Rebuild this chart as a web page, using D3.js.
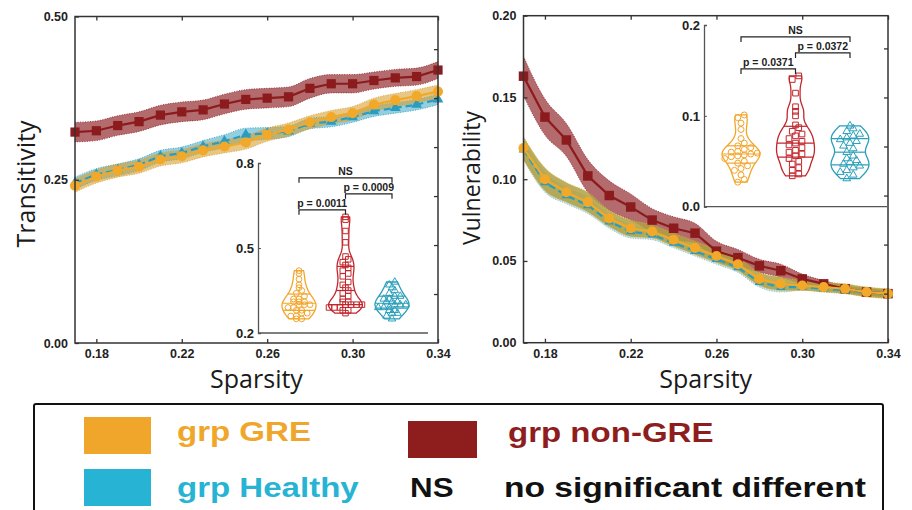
<!DOCTYPE html>
<html>
<head>
<meta charset="utf-8" />
<title>Transitivity and Vulnerability</title>
<script src="https://cdn.jsdelivr.net/npm/d3@7"></script>
<style>
  body { margin: 0; background: #fff; }
  svg { display: block; font-family: "Liberation Sans", Arial, sans-serif; }
  .tick text { font-weight: bold; font-size: 12.5px; fill: #222; }
  .title { font-family: "Open Sans", sans-serif; font-size: 25px; fill: #1a1a1a; }
</style>
</head>
<body>
<svg id="chart" width="912" height="510"></svg>
<script>
// sparsity thresholds (x axis of both panels)
var sparsity = [0.17, 0.18, 0.19, 0.20, 0.21, 0.22, 0.23, 0.24, 0.25, 0.26, 0.27, 0.28, 0.29, 0.30, 0.31, 0.32, 0.33, 0.34];
var xTicks = [0.18, 0.22, 0.26, 0.30, 0.34];
var groupNames = ["grp GRE", "grp non-GRE", "grp Healthy"];

// transitivity: group means and spread
var transGre = [0.241, 0.255, 0.264, 0.270, 0.281, 0.286, 0.295, 0.301, 0.307, 0.319, 0.327, 0.338, 0.346, 0.352, 0.365, 0.372, 0.378, 0.385];
var transGreSd = [0.010, 0.010, 0.010, 0.010, 0.010, 0.010, 0.010, 0.010, 0.010, 0.010, 0.010, 0.010, 0.010, 0.010, 0.010, 0.010, 0.010, 0.010];
var transHealthy = [0.245, 0.258, 0.265, 0.273, 0.286, 0.291, 0.301, 0.309, 0.319, 0.321, 0.324, 0.336, 0.339, 0.346, 0.355, 0.360, 0.365, 0.373];
var transHealthySd = [0.009, 0.009, 0.009, 0.009, 0.009, 0.009, 0.009, 0.010, 0.010, 0.009, 0.008, 0.008, 0.008, 0.008, 0.008, 0.008, 0.008, 0.008];
var transNonGre = [0.323, 0.325, 0.333, 0.339, 0.349, 0.354, 0.357, 0.366, 0.373, 0.375, 0.377, 0.390, 0.397, 0.397, 0.402, 0.406, 0.408, 0.418];
var transNonGreSd = [0.015, 0.015, 0.015, 0.015, 0.015, 0.015, 0.015, 0.015, 0.015, 0.015, 0.015, 0.015, 0.014, 0.014, 0.013, 0.013, 0.013, 0.013];

// vulnerability: group means and spread
var vulnGre = [0.119, 0.100, 0.092, 0.086, 0.076, 0.070, 0.068, 0.063, 0.058, 0.053, 0.048, 0.039, 0.036, 0.035, 0.034, 0.033, 0.031, 0.030];
var vulnGreSd = [0.007, 0.007, 0.006, 0.006, 0.005, 0.005, 0.004, 0.004, 0.004, 0.004, 0.004, 0.004, 0.004, 0.003, 0.003, 0.003, 0.003, 0.003];
var vulnHealthy = [0.118, 0.098, 0.090, 0.084, 0.074, 0.068, 0.066, 0.061, 0.056, 0.051, 0.046, 0.037, 0.034, 0.034, 0.033, 0.032, 0.031, 0.030];
var vulnHealthySd = [0.006, 0.006, 0.005, 0.005, 0.004, 0.004, 0.003, 0.003, 0.003, 0.003, 0.003, 0.003, 0.003, 0.002, 0.002, 0.002, 0.002, 0.002];
var vulnNonGre = [0.163, 0.138, 0.124, 0.102, 0.090, 0.083, 0.075, 0.070, 0.067, 0.056, 0.052, 0.047, 0.044, 0.039, 0.036, 0.033, 0.031, 0.030];
var vulnNonGreSd = [0.012, 0.011, 0.010, 0.010, 0.009, 0.008, 0.007, 0.007, 0.006, 0.006, 0.005, 0.004, 0.004, 0.003, 0.002, 0.002, 0.002, 0.002];

// subject-level values for the violin insets
var transSubjGre = [0.25, 0.25, 0.26, 0.26, 0.27, 0.27, 0.28, 0.28, 0.29, 0.29, 0.30, 0.30, 0.30, 0.31, 0.31, 0.31, 0.32, 0.32, 0.33, 0.34, 0.35, 0.36, 0.37, 0.39, 0.41, 0.42];
var transSubjNonGre = [0.27, 0.28, 0.28, 0.29, 0.29, 0.29, 0.30, 0.30, 0.30, 0.30, 0.31, 0.31, 0.32, 0.33, 0.34, 0.35, 0.36, 0.37, 0.38, 0.40, 0.41, 0.42, 0.43, 0.44, 0.45, 0.46, 0.47, 0.52, 0.56, 0.60, 0.61];
var transSubjHealthy = [0.25, 0.26, 0.27, 0.27, 0.28, 0.28, 0.29, 0.29, 0.29, 0.30, 0.30, 0.30, 0.31, 0.31, 0.31, 0.32, 0.32, 0.33, 0.33, 0.34, 0.35, 0.36, 0.37, 0.38];
var transPLabels = ["p = 0.0011", "p = 0.0009", "NS"];

var vulnSubjGre = [0.027, 0.030, 0.035, 0.040, 0.042, 0.045, 0.048, 0.050, 0.053, 0.055, 0.056, 0.057, 0.058, 0.059, 0.060, 0.061, 0.063, 0.065, 0.067, 0.070, 0.075, 0.085, 0.092, 0.098, 0.101];
var vulnSubjNonGre = [0.034, 0.036, 0.040, 0.043, 0.047, 0.050, 0.053, 0.056, 0.058, 0.060, 0.062, 0.065, 0.068, 0.070, 0.072, 0.075, 0.078, 0.080, 0.083, 0.087, 0.090, 0.100, 0.105, 0.110, 0.125, 0.140, 0.144];
var vulnSubjHealthy = [0.031, 0.035, 0.038, 0.040, 0.043, 0.045, 0.047, 0.049, 0.051, 0.053, 0.056, 0.060, 0.064, 0.067, 0.070, 0.072, 0.074, 0.076, 0.078, 0.080, 0.083, 0.086, 0.089];
var vulnPLabels = ["p = 0.0371", "p = 0.0372", "NS"];

var pairs = [[0, 1], [1, 2], [0, 2]];

var legendLabels = ["grp GRE", "grp non-GRE", "grp Healthy"];
var legendColors = ["#f0a62a", "#8e1e1e", "#27b4d4"];

var svg = d3.select("#chart");

function drawPanel(cfg) {
  var g = svg.append("g");
  var x = d3.scaleLinear().domain([0.17, 0.34]).range([cfg.left, cfg.right]);
  var y = d3.scaleLinear().domain(cfg.yDomain).range([cfg.bottom, cfg.top]);

  // shaded bands first, then lines and markers on top
  cfg.series.forEach(function(s) {
    var band = d3.area()
      .x(function(d, i) { return x(sparsity[i]); })
      .y0(function(d, i) { return y(d - s.sd[i]); })
      .y1(function(d, i) { return y(d + s.sd[i]); })
      .curve(d3.curveMonotoneX);
    g.append("path").datum(s.values)
      .attr("d", band)
      .attr("fill", s.bandColor)
      .attr("fill-opacity", s.bandOpacity)
      .attr("stroke", s.edgeColor || s.bandColor)
      .attr("stroke-opacity", 0.8)
      .attr("stroke-width", 1)
      .attr("stroke-dasharray", "1,1.5");
  });

  cfg.series.forEach(function(s) {
    var line = d3.line()
      .x(function(d, i) { return x(sparsity[i]); })
      .y(function(d) { return y(d); });
    g.append("path").datum(s.values)
      .attr("d", line)
      .attr("fill", "none")
      .attr("stroke", s.color)
      .attr("stroke-width", 2.2)
      .attr("stroke-dasharray", s.dash);
    g.selectAll(null).data(s.values).enter().append("path")
      .attr("transform", function(d, i) { return "translate(" + x(sparsity[i]) + "," + y(d) + ")"; })
      .attr("d", d3.symbol().type(s.symbol).size(s.size))
      .attr("fill", s.color);
  });

  // axes on all four sides, ticks pointing inward
  var ax = svg.append("g");
  ax.append("g").attr("transform", "translate(" + cfg.left + ",0)")
    .call(d3.axisLeft(y).tickValues(cfg.yTicks).tickFormat(d3.format(".2f")).tickSize(-4).tickPadding(7));
  ax.append("g").attr("transform", "translate(0," + cfg.bottom + ")")
    .call(d3.axisBottom(x).tickValues(xTicks).tickFormat(d3.format(".2f")).tickSize(-4).tickPadding(6));
  ax.append("g").attr("transform", "translate(0," + cfg.top + ")")
    .call(d3.axisTop(x).tickValues(xTicks).tickFormat("").tickSize(-4));
  ax.append("g").attr("transform", "translate(" + cfg.right + ",0)")
    .call(d3.axisRight(y).tickValues(cfg.rightTicks).tickFormat("").tickSize(-4));
  ax.selectAll(".domain").remove();
  ax.selectAll(".tick line").attr("stroke", "#333").attr("stroke-width", 1.3);
  ax.append("rect")
    .attr("x", cfg.left).attr("y", cfg.top)
    .attr("width", cfg.right - cfg.left).attr("height", cfg.bottom - cfg.top)
    .attr("fill", "none").attr("stroke", "#333").attr("stroke-width", 1.5);

  svg.append("text").attr("class", "title")
    .attr("x", (cfg.left + cfg.right) / 2).attr("y", cfg.bottom + 45)
    .attr("text-anchor", "middle").text("Sparsity");
  svg.append("text").attr("class", "title")
    .attr("transform", "translate(" + cfg.yTitleX + "," + cfg.yTitleY + ") rotate(-90)")
    .attr("text-anchor", "middle").style("font-size", cfg.yTitleSize).text(cfg.yTitle);
}

function kde(vals, bw, v) {
  return d3.sum(vals, function(s) { return Math.exp(-0.5 * Math.pow((v - s) / bw, 2)); });
}

function drawInset(cfg) {
  var g = svg.append("g");
  var x = d3.scalePoint().domain(groupNames).range([cfg.c0, cfg.c2]);
  var y = d3.scaleLinear().domain(cfg.yDomain).range([cfg.bottom, cfg.top]);

  var ay = g.append("g").attr("transform", "translate(" + cfg.left + ",0)")
    .call(d3.axisLeft(y).tickValues(cfg.yTicks).tickFormat(d3.format(".1f")).tickSize(-3).tickPadding(4));
  ay.select(".domain").attr("stroke", "#555").attr("stroke-width", 1.3);
  ay.selectAll(".tick line").attr("stroke", "#555");
  ay.selectAll(".tick text").style("font-size", "13px");
  g.append("line")
    .attr("x1", cfg.left).attr("x2", cfg.right)
    .attr("y1", cfg.bottom).attr("y2", cfg.bottom)
    .attr("stroke", "#555").attr("stroke-width", 1.3);

  cfg.groups.forEach(function(vals, gi) {
    var cx = x(groupNames[gi]);
    var col = cfg.colors[gi];
    var sorted = vals.slice().sort(d3.ascending);
    var lo = sorted[0], hi = sorted[sorted.length - 1];
    var grid = d3.range(61).map(function(k) { return lo + (hi - lo) * k / 60; });
    var dens = grid.map(function(v) { return kde(sorted, cfg.bw, v); });
    var w = d3.scaleLinear().domain([0, d3.max(dens)]).range([1.5, cfg.halfW]);
    var pts = grid.map(function(v, k) { return { v: v, w: w(dens[k]) }; });

    var area = d3.area()
      .y(function(d) { return y(d.v); })
      .x0(function(d) { return cx - d.w; })
      .x1(function(d) { return cx + d.w; })
      .curve(d3.curveBasis);
    g.append("path").datum(pts).attr("d", area)
      .attr("fill", "none").attr("stroke", col).attr("stroke-width", 1.3);

    // quartile lines across the violin
    [0.25, 0.5, 0.75].forEach(function(p) {
      var q = d3.quantile(sorted, p);
      var hw = w(kde(sorted, cfg.bw, q));
      g.append("line")
        .attr("x1", cx - hw).attr("x2", cx + hw)
        .attr("y1", y(q)).attr("y2", y(q))
        .attr("stroke", col).attr("stroke-width", 1.2);
    });

    // subjects: markers spread side by side within rows
    var rows = d3.groups(sorted, function(v) { return Math.round(y(v) / cfg.rowH); });
    rows.forEach(function(r) {
      var n = r[1].length;
      r[1].forEach(function(v, i) {
        g.append("path")
          .attr("transform", "translate(" + (cx + (i - (n - 1) / 2) * cfg.colW) + "," + y(v) + ")")
          .attr("d", d3.symbol().type(cfg.symbols[gi]).size(cfg.symSize[gi]))
          .attr("fill", "none").attr("stroke", col).attr("stroke-width", 1);
      });
    });
  });

  // significance brackets
  var yTop = y(d3.max(cfg.groups, function(a) { return d3.max(a); }));
  pairs.forEach(function(p, k) {
    var by = yTop - 7 - k * 16;
    var x1 = x(groupNames[p[0]]), x2 = x(groupNames[p[1]]);
    g.append("path")
      .attr("d", "M" + x1 + "," + (by + 5) + "V" + by + "H" + x2 + "V" + (by + 5))
      .attr("fill", "none").attr("stroke", "#222").attr("stroke-width", 1.2);
    g.append("text")
      .attr("x", (x1 + x2) / 2).attr("y", by - 3)
      .attr("text-anchor", "middle")
      .style("font-weight", "bold").style("font-size", "10.5px").attr("fill", "#222")
      .text(cfg.pLabels[k]);
  });
}

var insetColors = ["#f3a52a", "#c2262c", "#2a9fbb"];
var insetSymbols = [d3.symbolCircle, d3.symbolSquare, d3.symbolTriangle];

drawPanel({
  left: 75, right: 438, top: 16.5, bottom: 343,
  yDomain: [0, 0.5], yTicks: [0, 0.25, 0.5],
  rightTicks: [0.075, 0.15, 0.225, 0.30, 0.375, 0.45],
  yTitle: "Transitivity", yTitleX: 35, yTitleY: 184, yTitleSize: "25px",
  series: [
    { values: transNonGre, sd: transNonGreSd, color: "#8c1b1e", bandColor: "#8c1b1e", bandOpacity: 0.65, symbol: d3.symbolSquare, size: 85, dash: null },
    { values: transHealthy, sd: transHealthySd, color: "#2a9dbf", bandColor: "#2a9dbf", bandOpacity: 0.5, symbol: d3.symbolTriangle, size: 50, dash: "7,4" },
    { values: transGre, sd: transGreSd, color: "#f2a92a", bandColor: "#d9a030", bandOpacity: 0.6, symbol: d3.symbolCircle, size: 80, dash: null }
  ]
});

drawPanel({
  left: 523.5, right: 888, top: 15.7, bottom: 342.7,
  yDomain: [0, 0.2], yTicks: [0, 0.05, 0.10, 0.15, 0.20],
  rightTicks: [0.03, 0.06, 0.09, 0.12, 0.15, 0.18],
  yTitle: "Vulnerability", yTitleX: 480, yTitleY: 178, yTitleSize: "23px",
  series: [
    { values: vulnNonGre, sd: vulnNonGreSd, color: "#8c1b1e", bandColor: "#8c1b1e", bandOpacity: 0.65, symbol: d3.symbolSquare, size: 90, dash: null },
    { values: vulnHealthy, sd: vulnHealthySd, color: "#2a9dbf", bandColor: "#2a9dbf", bandOpacity: 0.3, edgeColor: "#8fb0a0", symbol: d3.symbolTriangle, size: 40, dash: "7,4" },
    { values: vulnGre, sd: vulnGreSd, color: "#f2a92a", bandColor: "#b0a040", bandOpacity: 0.85, edgeColor: "#d8b040", symbol: d3.symbolCircle, size: 80, dash: null }
  ]
});

drawInset({
  left: 258, right: 428, top: 163, bottom: 333, c0: 299, c2: 392,
  yDomain: [0.2, 0.8], yTicks: [0.2, 0.5, 0.8],
  groups: [transSubjGre, transSubjNonGre, transSubjHealthy],
  pLabels: transPLabels, colors: insetColors, symbols: insetSymbols,
  symSize: [26, 30, 24], bw: 0.022, halfW: 17, rowH: 4.5, colW: 5.5
});

drawInset({
  left: 704, right: 887, top: 25, bottom: 206.7, c0: 741, c2: 850,
  yDomain: [0, 0.2], yTicks: [0, 0.1, 0.2],
  groups: [vulnSubjGre, vulnSubjNonGre, vulnSubjHealthy],
  pLabels: vulnPLabels, colors: insetColors, symbols: insetSymbols,
  symSize: [28, 32, 26], bw: 0.007, halfW: 19, rowH: 6.5, colW: 6.5
});

// legend
var lg = svg.append("g");
lg.append("rect").attr("x", 34).attr("y", 404).attr("width", 849).attr("height", 130).attr("rx", 2)
  .attr("fill", "none").attr("stroke", "#111").attr("stroke-width", 2);
var slots = [{ x: 84, y: 417, w: 67, h: 37 }, { x: 408, y: 421, w: 69, h: 37 }, { x: 84, y: 469, w: 67, h: 37 }];
var textPos = [{ x: 177, y: 441 }, { x: 508, y: 442 }, { x: 177, y: 497 }];
legendLabels.forEach(function(lab, i) {
  lg.append("rect").attr("x", slots[i].x).attr("y", slots[i].y)
    .attr("width", slots[i].w).attr("height", slots[i].h).attr("fill", legendColors[i]);
  lg.append("text").attr("transform", "translate(" + textPos[i].x + "," + textPos[i].y + ") scale(1.18,1)")
    .style("font-weight", "bold").style("font-size", "28px").attr("fill", legendColors[i]).text(lab);
});
lg.append("text").attr("transform", "translate(410,497) scale(1.12,1)")
  .style("font-weight", "bold").style("font-size", "28px").attr("fill", "#111").text("NS");
lg.append("text").attr("transform", "translate(504,497) scale(1.2,1)")
  .style("font-weight", "bold").style("font-size", "28px").attr("fill", "#111").text("no significant different");
</script>
</body>
</html>
